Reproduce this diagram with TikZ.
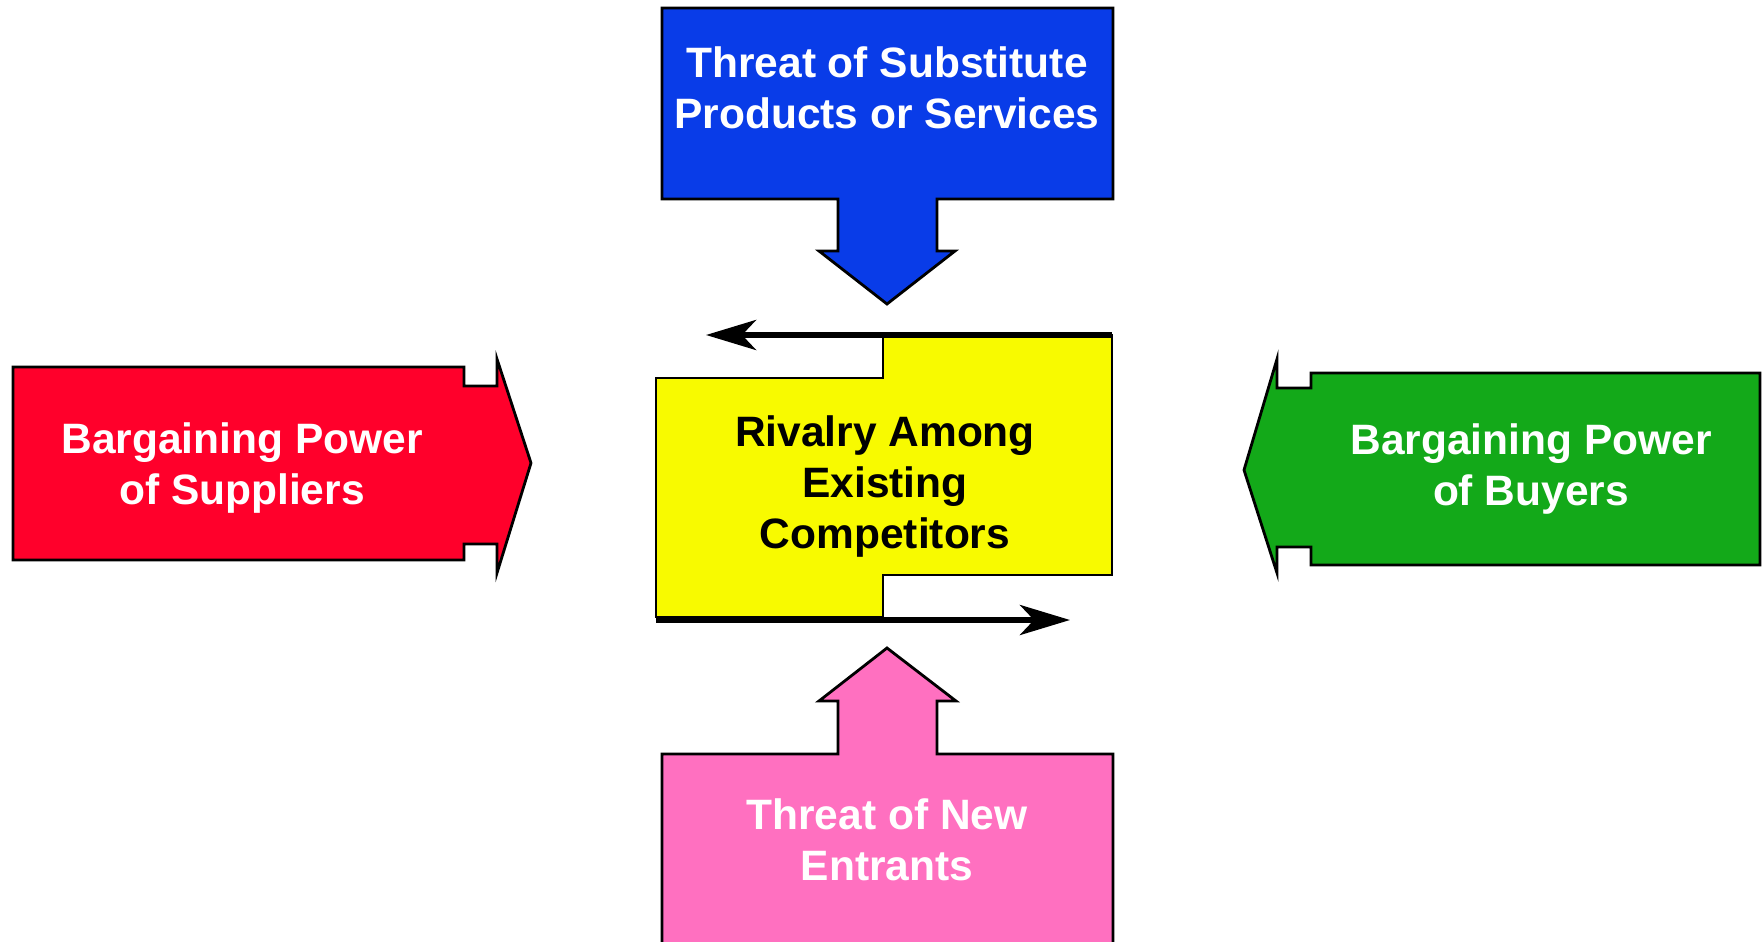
\documentclass[tikz,border=0pt]{standalone}
\usepackage{fontspec}
\setmainfont{Liberation Sans}
\usetikzlibrary{arrows.meta}

\definecolor{subblue}{RGB}{9,60,232}
\definecolor{supred}{RGB}{255,0,43}
\definecolor{buygreen}{RGB}{19,169,25}
\definecolor{rivyellow}{RGB}{248,250,0}
\definecolor{entpink}{RGB}{255,112,192}

\tikzset{
  force/.style={draw=black, line width=1.4pt, line join=miter},
  label/.style={font=\fontsize{21.25}{25.5}\selectfont\bfseries, align=center,
                inner sep=0pt, anchor=base},
  rivalry/.style={line width=3pt, -{Stealth[length=25pt, width=15pt, inset=7pt]}},
}

\begin{document}
\begin{tikzpicture}[x=0.5pt, y=-0.5pt]
  \useasboundingbox (0,0) rectangle (1762,942);
  \clip (0,0) rectangle (1762,942);

  % Threat of substitutes: box with a downward arrow
  \fill[subblue, force] (662,8) -- (1113,8) -- (1113,199) -- (937,199) -- (937,251)
    -- (955,251) -- (887,304) -- (819,251) -- (838,251) -- (838,199) -- (662,199) -- cycle;
  \node[label, text=white] (subst) at (887,128) {Threat of Substitute\\Products or Services};

  % Bargaining power of suppliers: arrow pointing right
  \fill[supred, force] (13,367) -- (464,367) -- (464,386) -- (497,386) -- (497,359)
    -- (531,463) -- (497,573) -- (497,544) -- (464,544) -- (464,560) -- (13,560) -- cycle;
  \node[label, text=white] (suppliers) at (242,504) {Bargaining Power\\of Suppliers};

  % Bargaining power of buyers: arrow pointing left
  \fill[buygreen, force] (1760,373) -- (1311,373) -- (1311,388) -- (1277,388) -- (1277,359)
    -- (1244,470) -- (1277,573) -- (1277,547) -- (1311,547) -- (1311,565) -- (1760,565) -- cycle;
  \node[label, text=white] (buyers) at (1531,505) {Bargaining Power\\of Buyers};

  % Threat of new entrants: box with an upward arrow
  \fill[entpink, force] (887,648) -- (956,701) -- (937,701) -- (937,754) -- (1113,754)
    -- (1113,960) -- (662,960) -- (662,754) -- (838,754) -- (838,701) -- (819,701) -- cycle;
  \node[label, text=white] (entrants) at (887,880) {Threat of New\\Entrants};

  % Rivalry among existing competitors: stepped box
  \coordinate (rivTR) at (1112,335);
  \coordinate (rivBL) at (656,620);
  \fill[rivyellow, force] (656,378) -- (883,378) -- (883,335) -- (1112,335) -- (1112,575)
    -- (883,575) -- (883,617) -- (656,617) -- cycle;
  \node[label, text=black] (rivalry) at (885,548) {Rivalry Among\\Existing\\Competitors};

  % Circulating arrows along the rivalry box
  \coordinate (leftTip) at (706,335);
  \coordinate (rightTip) at (1070,620);
  \draw[rivalry] (rivTR) -- (leftTip);
  \draw[rivalry] (rivBL) -- (rightTip);
\end{tikzpicture}
\end{document}
